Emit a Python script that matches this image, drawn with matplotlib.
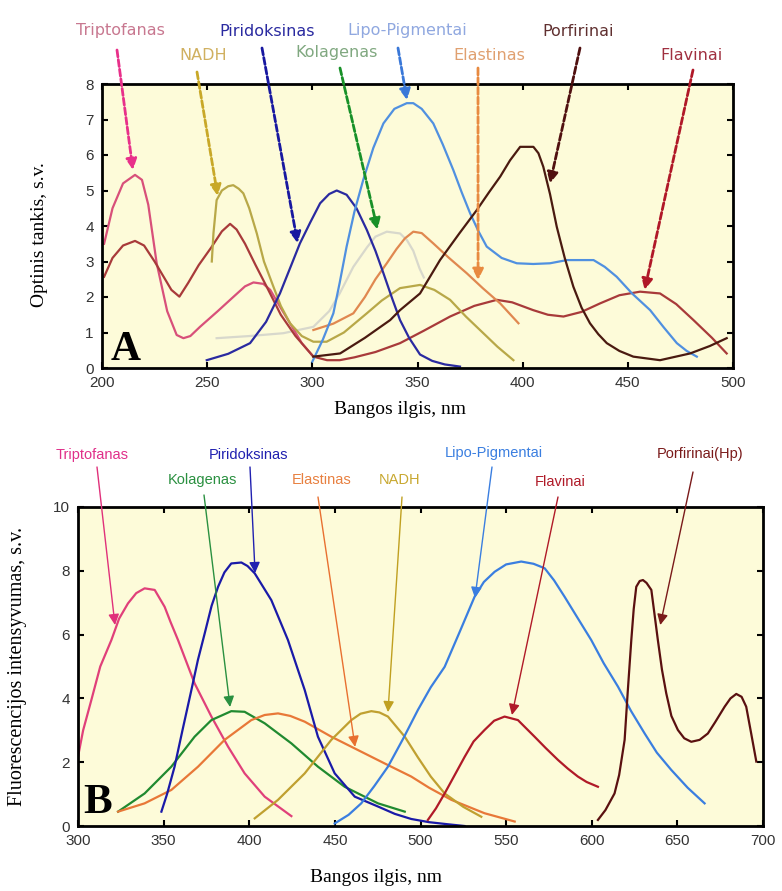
import matplotlib
matplotlib.use('Agg')
from matplotlib import pyplot as plt

W, H = 782, 891

# ---------- panel A: absorption (optinis tankis) ----------
trip_a_x = [201, 205, 210, 215.7, 219, 222, 226, 231, 235.5, 238.7, 242, 246.6, 255, 262.4, 268, 272, 276.7, 280, 284.6, 290, 295, 300.5]
trip_a_y = [3.5, 4.5, 5.2, 5.44, 5.3, 4.6, 2.95, 1.6, 0.93, 0.84, 0.9, 1.16, 1.6, 2.0, 2.3, 2.41, 2.37, 2.2, 1.73, 1.2, 0.7, 0.32]

flav_a_x = [201, 205, 210, 215.7, 220, 225, 230, 233, 236.8, 241, 246, 252, 257, 260.9, 264, 268, 273, 278.3, 285, 292, 300.5,
            307, 313, 320, 330, 341.7, 353, 365.5, 377, 387.7, 395, 405, 412, 419.4, 428, 436.8, 446, 455.8, 465.3, 473,
            481.2, 490, 497]
flav_a_y = [2.57, 3.1, 3.45, 3.58, 3.45, 3.0, 2.5, 2.2, 2.01, 2.4, 2.9, 3.4, 3.85, 4.06, 3.9, 3.5, 2.9, 2.29, 1.5, 0.9, 0.32,
            0.22, 0.22, 0.3, 0.45, 0.7, 1.05, 1.45, 1.75, 1.92, 1.85, 1.63, 1.5, 1.45, 1.58, 1.82, 2.05, 2.15, 2.1, 1.8,
            1.35, 0.85, 0.41]

porf_a_x = [300.5, 313.2, 325, 337, 341.7, 351.2, 360.7, 370, 378.2, 384, 389.3, 394, 398.8, 405.1, 407.5, 409.8, 413, 416.2,
            420, 424.1, 428, 432, 436, 440, 446, 452.6, 465.3, 479.6, 489, 497]
porf_a_y = [0.32, 0.41, 0.85, 1.35, 1.63, 2.1, 3.04, 3.8, 4.45, 4.95, 5.39, 5.85, 6.23, 6.23, 6.05, 5.67, 4.9, 3.98,
            3.1, 2.29, 1.7, 1.26, 0.95, 0.7, 0.48, 0.32, 0.22, 0.41, 0.62, 0.84]

lipo_a_x = [300, 305, 310, 313, 316.3, 320, 324.2, 329, 333.8, 339, 344.9, 348, 352, 357.5, 362, 367, 371, 375, 379, 382.9,
            390, 397.2, 405, 413, 421, 433.7, 439, 444.7, 452, 460.6, 467, 473.3, 478, 482.8]
lipo_a_y = [0.18, 0.8, 1.54, 2.4, 3.42, 4.4, 5.3, 6.2, 6.89, 7.3, 7.46, 7.46, 7.3, 6.89, 6.3, 5.58, 4.95, 4.36, 3.85, 3.42,
            3.1, 2.95, 2.93, 2.95, 3.04, 3.04, 2.85, 2.57, 2.1, 1.63, 1.15, 0.7, 0.48, 0.32]

pir_a_x = [249.8, 260, 270.4, 278, 284.6, 290, 294.1, 299, 303.7, 308, 311.6, 316.3, 321, 325.9, 330, 333.8, 338, 341.7,
           346, 351.2, 357, 363, 370.2]
pir_a_y = [0.22, 0.4, 0.7, 1.3, 2.1, 2.9, 3.51, 4.1, 4.64, 4.9, 5.0, 4.88, 4.5, 3.89, 3.3, 2.67, 1.95, 1.35,
           0.85, 0.38, 0.2, 0.1, 0.04]

nadh_a_x = [252.2, 253, 254.5, 257, 260, 262.4, 265, 267.2, 270, 273.6, 277, 281.5, 285, 289.4, 295, 300.5, 306.8, 315,
            325.9, 333, 341.7, 351.2, 358, 365.5, 373, 381.3, 388, 395.6]
nadh_a_y = [3.0, 3.8, 4.73, 5.0, 5.12, 5.15, 5.05, 4.92, 4.5, 3.79, 3.0, 2.29, 1.75, 1.26, 0.9, 0.74, 0.74, 1.0,
            1.54, 1.9, 2.25, 2.34, 2.2, 1.92, 1.45, 0.98, 0.6, 0.22]

kol_a_x = [254.5, 270, 286.2, 300.5, 308, 313, 319.5, 326, 330, 335.4, 341.7, 345, 348, 351, 353]
kol_a_y = [0.84, 0.9, 0.98, 1.16, 1.6, 2.1, 2.85, 3.4, 3.7, 3.84, 3.79, 3.6, 3.3, 2.8, 2.55]

elast_a_x = [300.5, 310, 319.5, 325, 330, 335.4, 340, 344, 348, 352, 357.5, 365, 373.4, 381, 389.3, 398]
elast_a_y = [1.07, 1.25, 1.54, 2.0, 2.5, 2.95, 3.35, 3.65, 3.84, 3.8, 3.51, 3.1, 2.67, 2.25, 1.82, 1.26]

# ---------- panel B: fluorescence ----------
trip_b_x = [300, 303, 307.8, 313, 319.5, 324, 329.2, 334, 338.9, 344.8, 350.6, 354, 358.4, 368.1, 377.9, 387.6, 397.3, 409, 424.6]
trip_b_y = [2.17, 3.0, 3.95, 5.0, 5.83, 6.5, 6.98, 7.3, 7.45, 7.4, 6.87, 6.4, 5.83, 4.47, 3.43, 2.49, 1.65, 0.92, 0.31]

kol_b_x = [323.4, 338.9, 354.5, 368.1, 377.9, 389.5, 397.3, 409, 424.6, 440.1, 455.7, 475.2, 490.8]
kol_b_y = [0.45, 1.02, 1.86, 2.8, 3.32, 3.6, 3.58, 3.22, 2.59, 1.86, 1.23, 0.71, 0.45]

elast_b_x = [323.4, 338.9, 354.5, 370.1, 385.6, 401.2, 409, 416.8, 424, 432.4, 447.9, 463.5, 479.1, 494.6, 505, 518, 537.4, 555]
elast_b_y = [0.45, 0.71, 1.13, 1.86, 2.7, 3.32, 3.48, 3.53, 3.45, 3.27, 2.8, 2.38, 1.96, 1.55, 1.2, 0.82, 0.4, 0.14]

pir_b_x = [348.7, 352, 356.4, 361, 366.2, 370, 374, 378, 381.8, 385.5, 389.5, 395.4, 399, 403.2, 412.9, 422.6, 432.4, 440.1,
           449.9, 461.6, 475.2, 485, 494.6, 505, 515, 525.7]
pir_b_y = [0.45, 1.0, 1.86, 3.0, 4.26, 5.2, 6.04, 6.9, 7.5, 7.95, 8.23, 8.26, 8.15, 7.92, 7.08, 5.83, 4.26, 2.8,
           1.65, 0.92, 0.61, 0.38, 0.22, 0.12, 0.06, 0.0]

nadh_b_x = [403.2, 416.8, 432.4, 447.9, 459.6, 465, 471.3, 476, 481, 490.8, 498.5, 506, 514.1, 525, 535.5]
nadh_b_y = [0.24, 0.82, 1.65, 2.7, 3.32, 3.52, 3.6, 3.56, 3.43, 2.8, 2.15, 1.55, 1.02, 0.6, 0.29]

lipo_b_x = [449.9, 458, 465.4, 473, 481, 490, 498.5, 506, 514.1, 523, 531.6, 537, 543.3, 550, 558.8, 566, 572.5, 578, 584.1,
            592, 599.7, 607, 615.3, 623, 630.9, 638, 646.4, 656, 665.9]
lipo_b_y = [0.08, 0.35, 0.71, 1.25, 1.86, 2.75, 3.64, 4.35, 4.99, 6.1, 7.19, 7.65, 7.97, 8.2, 8.29, 8.22, 8.08, 7.7, 7.19,
            6.5, 5.83, 5.1, 4.37, 3.6, 2.9, 2.3, 1.76, 1.2, 0.71]

flav_b_x = [504.3, 509, 514.1, 520, 525.8, 531, 537.4, 543, 549.1, 556.9, 561, 566.6, 573, 580.3, 586, 591.9, 597, 603.6]
flav_b_y = [0.19, 0.55, 1.02, 1.6, 2.17, 2.65, 3.01, 3.3, 3.43, 3.32, 3.1, 2.8, 2.45, 2.07, 1.8, 1.55, 1.38, 1.23]

porf_b_x = [603.6, 608, 613.3, 616, 619.2, 621, 623.1, 624.5, 626, 628, 629.9, 632, 634.8, 636.5, 638.6, 641, 643.5, 646.5,
            650.3, 654, 658.1, 663, 667.8, 672, 677.6, 681, 684.4, 687.5, 690.2, 693.1, 696.1]
porf_b_y = [0.19, 0.5, 1.02, 1.6, 2.7, 4.2, 5.83, 6.8, 7.5, 7.68, 7.71, 7.62, 7.4, 6.7, 5.83, 4.9, 4.16, 3.45,
            3.01, 2.75, 2.64, 2.7, 2.9, 3.25, 3.74, 4.0, 4.14, 4.05, 3.74, 2.9, 2.02]

# (name, label colour, arrow colour, label pos px, arrow start px, arrow tip in data)
labels_a = [
    ('Triptofanas', '#c87890', '#e8308a', (120, 30), (117, 50), (214.7, 5.58)),
    ('NADH', '#d0b060', '#c8a828', (203, 55), (197, 72), (255, 4.85)),
    ('Piridoksinas', '#2a2aa0', '#1818a0', (267, 32), (262, 48), (293, 3.52)),
    ('Kolagenas', '#80a880', '#189028', (337, 52), (340, 68), (331, 3.9)),
    ('Lipo-Pigmentai', '#90a8e0', '#3a78d8', (407, 30), (398, 48), (345, 7.55)),
    ('Elastinas', '#e0a070', '#e88a40', (489, 55), (478, 68), (378.8, 2.48)),
    ('Porfirinai', '#603030', '#501010', (578, 32), (580, 48), (413, 5.2)),
    ('Flavinai', '#a03040', '#b01828', (692, 55), (693, 70), (458, 2.2)),
]
labels_b = [
    ('Triptofanas', '#e0308a', '#e0307a', (92, 455), (97, 467), (321.6, 6.3)),
    ('Kolagenas', '#2a9040', '#2a9040', (202, 480), (204, 495), (388.8, 3.73)),
    ('Piridoksinas', '#2020b0', '#2020b0', (248, 455), (250, 467), (403.4, 7.93)),
    ('Elastinas', '#e88040', '#e87030', (322, 480), (318, 497), (461.8, 2.48)),
    ('NADH', '#c8a830', '#c0a020', (400, 480), (402, 497), (481, 3.57)),
    ('Lipo-Pigmentai', '#3a7ee0', '#3a7ee0', (494, 453), (492, 467), (531.8, 7.15)),
    ('Flavinai', '#b01a28', '#b01a28', (560, 482), (558, 497), (553.4, 3.48)),
    ('Porfirinai(Hp)', '#7a1a1a', '#7a1a1a', (700, 454), (693, 472), (640, 6.3)),
]

bg = '#fdfbd9'
fig = plt.figure(figsize=(W / 100, H / 100), dpi=100)
fig.patch.set_facecolor('white')

def setup(ax, xt, yt):
    ax.set_facecolor(bg)
    ax.set_xticks(xt)
    ax.set_yticks(yt)
    ax.tick_params(direction='in', top=True, right=True, labelsize=11, length=4, width=1.5,
                   labelcolor='#333333', pad=6)
    for lab in ax.get_xticklabels() + ax.get_yticklabels():
        lab.set_family('Liberation Sans')
    for s in ax.spines.values():
        s.set_linewidth(2)

# panel A
axA = fig.add_axes([102 / W, 1 - 368 / H, 631 / W, 284 / H])
axA.plot(kol_a_x, kol_a_y, color='#d8d8cc', lw=1.6)
axA.plot(trip_a_x, trip_a_y, color='#d8507a', lw=1.6)
axA.plot(flav_a_x, flav_a_y, color='#a83a3a', lw=1.6)
axA.plot(nadh_a_x, nadh_a_y, color='#b8a848', lw=1.6)
axA.plot(elast_a_x, elast_a_y, color='#e08850', lw=1.6)
axA.plot(pir_a_x, pir_a_y, color='#2a2aa0', lw=1.6)
axA.plot(lipo_a_x, lipo_a_y, color='#5090e0', lw=1.6)
axA.plot(porf_a_x, porf_a_y, color='#4a1a10', lw=1.6)
axA.set_xlim(200, 500)
axA.set_ylim(0, 8)
setup(axA, range(200, 501, 50), range(0, 9))
axA.set_xlabel('Bangos ilgis, nm', family='Liberation Serif', fontsize=14)
axA.xaxis.set_label_coords(0.472, (368 - 410) / 284)
axA.xaxis.label.set_va('center')
axA.set_ylabel('Optinis tankis, s.v.', family='Liberation Serif', fontsize=14)
axA.yaxis.set_label_coords((40 - 102) / 631, 0.47)
axA.yaxis.label.set_va('center')
axA.text(0.013, 0.028, 'A', transform=axA.transAxes, family='Liberation Serif',
         fontsize=30, fontweight='bold', va='baseline')

# panel B
axB = fig.add_axes([78 / W, 1 - 826 / H, 685 / W, 319 / H])
axB.plot(trip_b_x, trip_b_y, color='#e0407a', lw=1.6)
axB.plot(kol_b_x, kol_b_y, color='#208a30', lw=1.6)
axB.plot(elast_b_x, elast_b_y, color='#e87838', lw=1.6)
axB.plot(pir_b_x, pir_b_y, color='#1a1aa8', lw=1.6)
axB.plot(nadh_b_x, nadh_b_y, color='#c0a030', lw=1.6)
axB.plot(lipo_b_x, lipo_b_y, color='#3a7ee0', lw=1.6)
axB.plot(flav_b_x, flav_b_y, color='#b01a28', lw=1.6)
axB.plot(porf_b_x, porf_b_y, color='#5a1010', lw=1.6)
axB.set_xlim(300, 700)
axB.set_ylim(0, 10)
setup(axB, range(300, 701, 50), range(0, 11, 2))
axB.set_xlabel('Bangos ilgis, nm', family='Liberation Serif', fontsize=14)
axB.xaxis.set_label_coords((376 - 78) / 685, (826 - 878) / 319)
axB.xaxis.label.set_va('center')
axB.set_ylabel('Fluorescencijos intensyvumas, s.v.', family='Liberation Serif', fontsize=14.5)
axB.yaxis.set_label_coords((18 - 78) / 685, 0.5)
axB.yaxis.label.set_va('center')
axB.text(0.007, 0.04, 'B', transform=axB.transAxes, family='Liberation Serif',
         fontsize=31, fontweight='bold', va='baseline')

# labels + arrows
for name, tc, ac, (lx, ly), (sx, sy), tip in labels_a:
    fig.text(lx / W, 1 - ly / H, name, color=tc, fontsize=11.5, family='DejaVu Sans',
             ha='center', va='center')
    axA.annotate('', xy=tip, xycoords='data', xytext=(sx, H - sy), textcoords='figure pixels',
                 annotation_clip=False,
                 arrowprops=dict(arrowstyle='-|>', color=ac, lw=2, ls=(0, (2.5, 1)),
                                 mutation_scale=16, shrinkA=0, shrinkB=0))

for name, tc, ac, (lx, ly), (sx, sy), tip in labels_b:
    fig.text(lx / W, 1 - ly / H, name, color=tc, fontsize=10.5, family='Liberation Sans',
             ha='center', va='center')
    axB.annotate('', xy=tip, xycoords='data', xytext=(sx, H - sy), textcoords='figure pixels',
                 annotation_clip=False,
                 arrowprops=dict(arrowstyle='-|>', color=ac, lw=1,
                                 mutation_scale=16, shrinkA=0, shrinkB=0))

fig.savefig('out.png', dpi=100)
